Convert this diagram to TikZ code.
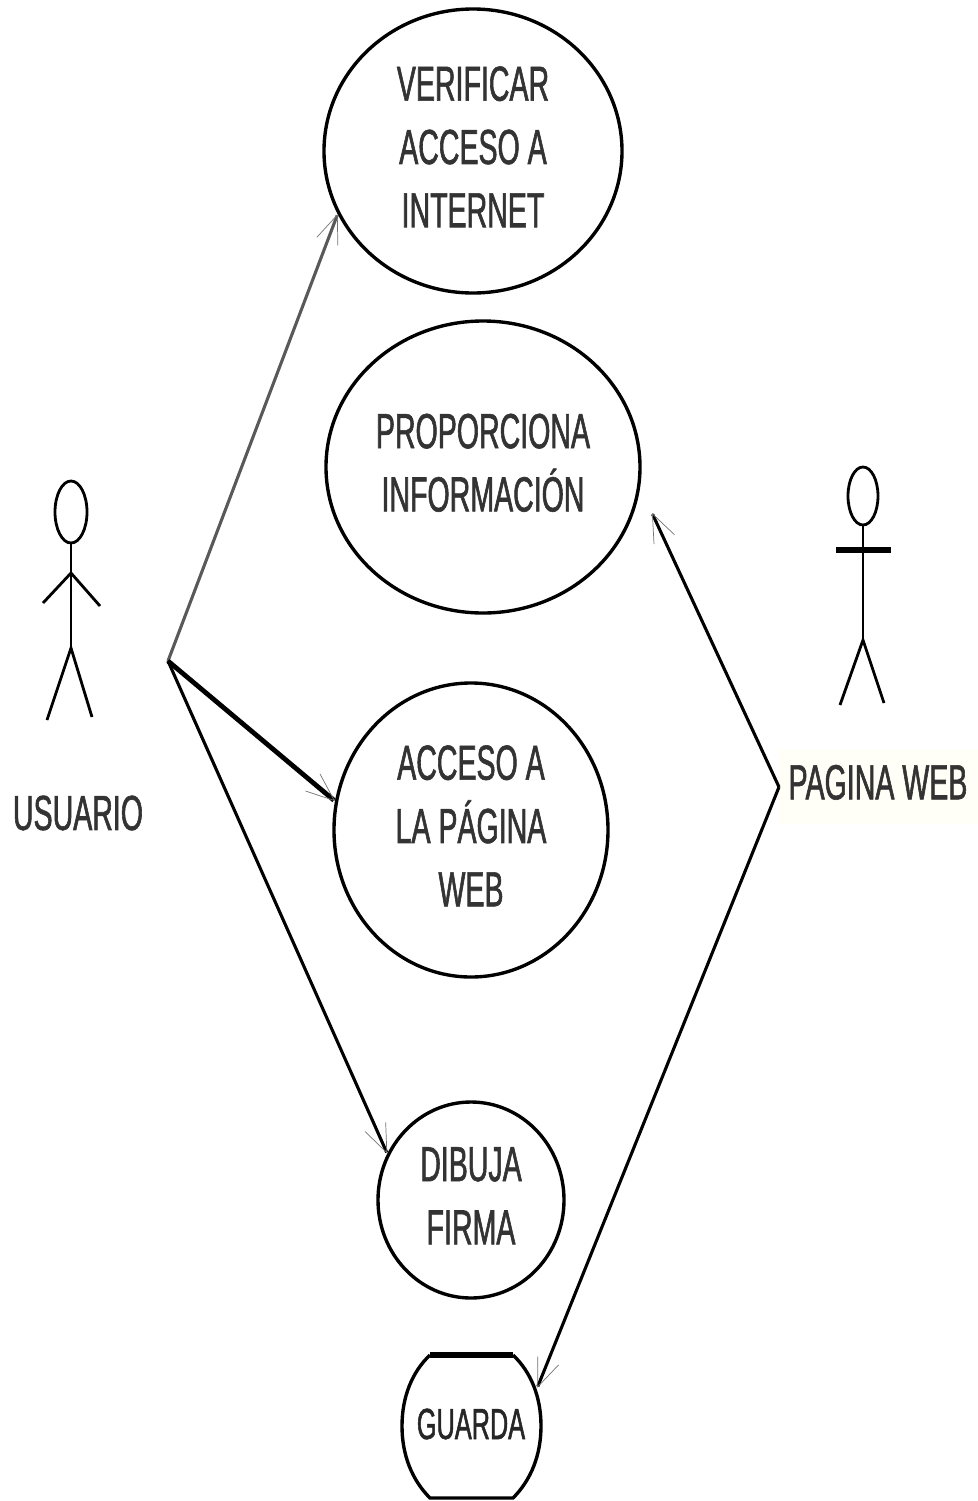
\documentclass[tikz,border=0pt]{standalone}
\usepackage{fontspec}
\usetikzlibrary{shapes.geometric,arrows.meta}
\newfontfamily\ucfont[FakeStretch=0.58,FakeBold=1.2]{Liberation Sans}
\tikzset{
	usecase/.style={draw,ellipse,line width=2.4pt,inner sep=0pt,font=\ucfont\fontsize{35}{45}\selectfont,text=black!80},
	casetext/.style={inner sep=0pt,align=center,font=\ucfont\fontsize{35}{45}\selectfont,text=black!80},
	actorlabel/.style={inner sep=0pt,font=\ucfont\fontsize{35}{44}\selectfont,text=black!80},
	actorline/.style={line width=2pt},
	link/.style={-{Straight Barb[length=20pt,width=16pt,line width=0.5pt,black!55]},line width=2.2pt}
}
\begin{document}
\begin{tikzpicture}[x=0.025cm,y=-0.025cm]
	\useasboundingbox (0,0) rectangle (978,1501);

	\node [usecase,minimum width=298*0.025cm,minimum height=284*0.025cm,label={[casetext,yshift=3pt]center:VERIFICAR\\ACCESO A\\INTERNET}] (verificar) at (473,151) {};
	\node [usecase,minimum width=314*0.025cm,minimum height=292*0.025cm,label={[casetext,yshift=3pt]center:PROPORCIONA\\INFORMACI\'ON}] (proporciona) at (483,467) {};
	\node [usecase,minimum width=274*0.025cm,minimum height=294*0.025cm,label={[casetext,yshift=3pt]center:ACCESO A\\LA P\'AGINA\\WEB}] (acceso) at (471,830) {};
	\node [usecase,minimum width=186*0.025cm,minimum height=196*0.025cm,label={[casetext,yshift=3pt]center:DIBUJA\\FIRMA}] (dibuja) at (471,1200) {};

	% guarda
	\node [inner sep=0pt,font=\ucfont\fontsize{31}{36}\selectfont,text=black!85,minimum width=132*0.025cm,minimum height=72*0.025cm] (guarda) at (471,1424) {GUARDA};
	\draw [line width=2.4pt] (513,1355) .. controls (531,1372) and (541,1397) .. (541,1426) .. controls (541,1455) and (531,1480) .. (513,1498) -- (430,1498) .. controls (412,1480) and (402,1455) .. (402,1426) .. controls (402,1397) and (412,1372) .. (430,1355);
	\draw [line width=4.5pt] (430,1355) -- (513,1355);

	% usuario
	\node [draw,ellipse,actorline,minimum width=32*0.025cm,minimum height=62*0.025cm,inner sep=0pt] (headU) at (71,512) {};
	\coordinate (neckU) at (71,573);
	\coordinate (hipU) at (71,648);
	\coordinate (handUl) at (43,603);
	\coordinate (handUr) at (100,606);
	\coordinate (footUl) at (47,720);
	\coordinate (footUr) at (92,717);
	\draw [actorline] (headU) -- (hipU);
	\draw [actorline] (handUl) -- (neckU) -- (handUr);
	\draw [actorline] (footUl) -- (hipU) -- (footUr);
	\node [actorlabel] (usuario) at (78,813) {USUARIO};

	% pagina web
	\node [draw,ellipse,actorline,minimum width=30*0.025cm,minimum height=58*0.025cm,inner sep=0pt] (headW) at (863,496) {};
	\coordinate (hipW) at (863,640);
	\coordinate (handWl) at (836,550);
	\coordinate (handWr) at (891,550);
	\coordinate (footWl) at (840,705);
	\coordinate (footWr) at (884,703);
	\draw [actorline] (headW) -- (hipW);
	\draw [line width=4pt] (handWl) -- (handWr);
	\draw [actorline] (footWl) -- (hipW) -- (footWr);
	\node [actorlabel,fill=yellow!3,minimum width=200*0.025cm,minimum height=74*0.025cm] (pagina) at (878,787) {\raisebox{7pt}{PAGINA WEB}};

	\coordinate (hubU) at (168,661);
	\coordinate (hubW) at (779,787);
	\coordinate (tipW) at (652,513);

	\path [link]
	(hubU) edge [black!65] (verificar.205.5)
	(hubU) edge [line width=3.4pt] (acceso.168)
	(hubU) edge (dibuja.151)
	(hubW) edge (tipW)
	(hubW) edge (guarda.north east);
\end{tikzpicture}
\end{document}
